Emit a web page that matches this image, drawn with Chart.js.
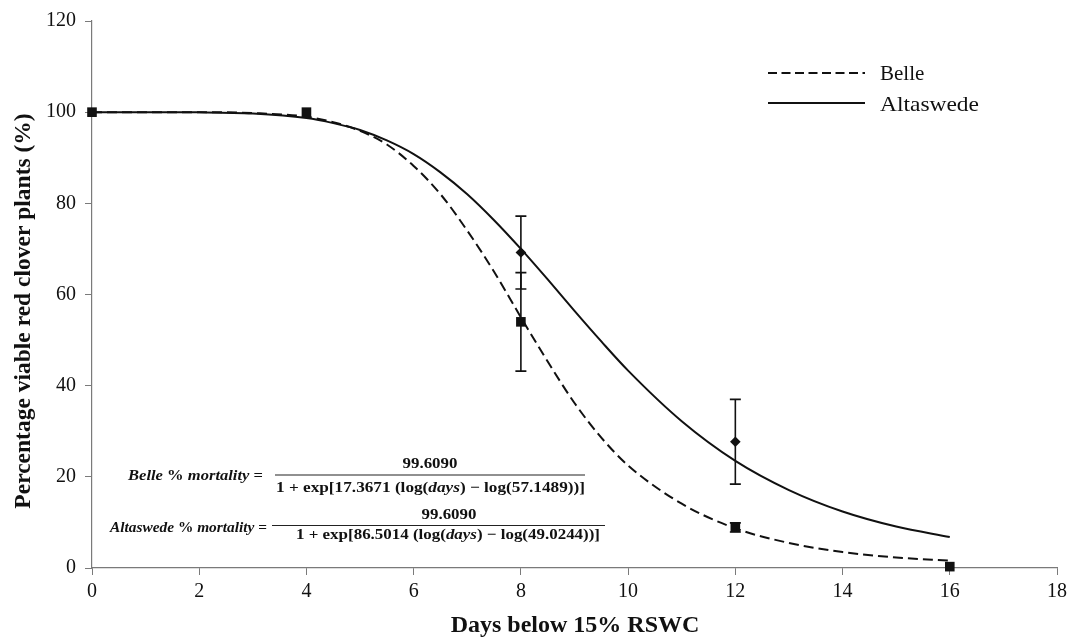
<!DOCTYPE html>
<html>
<head>
<meta charset="utf-8">
<script src="https://cdn.jsdelivr.net/npm/chart.js@4.4.1/dist/chart.umd.min.js"></script>
<style>
  html, body { margin: 0; padding: 0; background: #fff; }
  #wrap { width: 1073px; height: 640px; position: relative; }
</style>
</head>
<body>
<div id="wrap"><canvas id="c" width="1073" height="640"></canvas></div>
<script>
// ---------- data ----------
const xTicks = [0, 2, 4, 6, 8, 10, 12, 14, 16, 18];
const yTicks = [0, 20, 40, 60, 80, 100, 120];

// observed means
const belleDays = [0, 4, 8, 12, 16];
const belleMeans = [100, 100, 54, 8.9, 0.3];
const belleErr = [0, 0, 10.8, 1.0, 0];

const altaDays = [8, 12];
const altaMeans = [69.2, 27.7];
const altaErr = [8.0, 9.3];

// fitted curves
const curveDays = [0, 1, 2, 3, 4, 4.5, 5, 5.5, 6, 6.5, 7, 7.5, 8, 8.5, 9, 9.5, 10, 11, 12, 13, 14, 15, 16];
const belleCurve = [100, 100, 100, 99.8, 99.0, 97.8, 95.9, 92.9, 88.2, 82.0, 74.0, 65.0, 55.0, 45.3, 36.2, 28.6, 22.5, 14.1, 8.7, 5.5, 3.5, 2.3, 1.6];
const altaCurve = [100, 100, 99.96, 99.7, 98.7, 97.6, 96.1, 93.8, 90.8, 86.8, 82.0, 76.3, 70.0, 63.3, 56.4, 49.7, 43.3, 32.2, 23.5, 17.1, 12.4, 9.1, 6.8];

const seriesNames = ['Belle', 'Altaswede'];
const xTitle = 'Days below 15% RSWC';
const yTitle = 'Percentage viable red clover plants (%)';

// ---------- helpers ----------
const toXY = (xs, ys) => xs.map((x, i) => ({ x: x, y: ys[i] }));

const SERIF = '"Liberation Serif", "Times New Roman", serif';

function drawSegs(ctx, segs, x, y, align, targetW) {
  let total = 0;
  segs.forEach(s => { ctx.font = s.f; total += ctx.measureText(s.t).width; });
  const sx = targetW ? targetW / total : 1;
  const w = total * sx;
  let startX = x;
  if (align === 'center') startX = x - w / 2;
  else if (align === 'right') startX = x - w;
  ctx.save();
  ctx.translate(startX, y);
  ctx.scale(sx, 1);
  ctx.textBaseline = 'alphabetic';
  ctx.textAlign = 'left';
  ctx.fillStyle = '#111';
  let cx = 0;
  segs.forEach(s => { ctx.font = s.f; ctx.fillText(s.t, cx, 0); cx += ctx.measureText(s.t).width; });
  ctx.restore();
}

const B = 'bold 15px ' + SERIF;
const BI = 'italic bold 15px ' + SERIF;

const extras = {
  id: 'extras',
  afterDatasetsDraw(chart) {
    const ctx = chart.ctx;
    const xs = chart.scales.x, ys = chart.scales.y;
    const drawErr = (days, means, errs) => {
      ctx.save();
      ctx.strokeStyle = '#111';
      ctx.lineWidth = 1.6;
      days.forEach((d, i) => {
        const e = errs[i];
        if (!e) return;
        const px = xs.getPixelForValue(d);
        const pt = ys.getPixelForValue(means[i] + e);
        const pb = ys.getPixelForValue(means[i] - e);
        ctx.beginPath();
        ctx.moveTo(px, pt); ctx.lineTo(px, pb);
        ctx.moveTo(px - 5.5, pt); ctx.lineTo(px + 5.5, pt);
        ctx.moveTo(px - 5.5, pb); ctx.lineTo(px + 5.5, pb);
        ctx.stroke();
      });
      ctx.restore();
    };
    drawErr(belleDays, belleMeans, belleErr);
    drawErr(altaDays, altaMeans, altaErr);
  },
  afterDraw(chart) {
    const ctx = chart.ctx;
    // legend
    ctx.save();
    ctx.strokeStyle = '#111';
    ctx.lineWidth = 2;
    ctx.setLineDash([9, 4.5]);
    ctx.beginPath(); ctx.moveTo(768, 73); ctx.lineTo(865, 73); ctx.stroke();
    ctx.setLineDash([]);
    ctx.beginPath(); ctx.moveTo(768, 103); ctx.lineTo(865, 103); ctx.stroke();
    ctx.fillStyle = '#111';
    ctx.font = '21px ' + SERIF;
    ctx.textBaseline = 'middle';
    ctx.textAlign = 'left';
    ctx.fillText(seriesNames[0], 880, 74);
    drawSegs(ctx, [{t: seriesNames[1], f: '21px ' + SERIF}], 880, 111, 'left', 99);
    // axis titles
    ctx.fillStyle = '#111';
    ctx.textBaseline = 'middle';
    ctx.font = 'bold 24px ' + SERIF;
    ctx.textAlign = 'center';
    ctx.fillText(xTitle, 575, 626);
    ctx.translate(24, 311);
    ctx.rotate(-Math.PI / 2);
    ctx.font = 'bold 23.5px ' + SERIF;
    ctx.fillText(yTitle, 0, 0);
    ctx.restore();

    // equations
    ctx.save();
    drawSegs(ctx, [{t: 'Belle', f: BI}, {t: ' % ', f: B}, {t: 'mortality', f: BI}, {t: ' =', f: B}], 263, 480, 'right', 135);
    drawSegs(ctx, [{t: '99.6090', f: B}], 430, 468, 'center', 55);
    drawSegs(ctx, [{t: '1 + exp[17.3671 (log(', f: B}, {t: 'days', f: BI}, {t: ') \u2212 log(57.1489))]', f: B}], 276, 492, 'left', 309);
    drawSegs(ctx, [{t: 'Altaswede', f: BI}, {t: ' % ', f: B}, {t: 'mortality', f: BI}, {t: ' =', f: B}], 267, 532, 'right', 157);
    drawSegs(ctx, [{t: '99.6090', f: B}], 449, 519, 'center', 55);
    drawSegs(ctx, [{t: '1 + exp[86.5014 (log(', f: B}, {t: 'days', f: BI}, {t: ') \u2212 log(49.0244))]', f: B}], 296, 539, 'left', 304);
    ctx.strokeStyle = '#222';
    ctx.lineWidth = 1.2;
    ctx.beginPath();
    ctx.moveTo(275, 475); ctx.lineTo(585, 475);
    ctx.moveTo(272, 525.5); ctx.lineTo(605, 525.5);
    ctx.stroke();
    ctx.restore();
  }
};

const axisColor = '#7a7a7a';

new Chart(document.getElementById('c'), {
  type: 'scatter',
  data: {
    datasets: [
      {
        label: seriesNames[0] + ' fit',
        type: 'line',
        data: toXY(curveDays, belleCurve),
        borderColor: '#111',
        borderWidth: 2,
        borderDash: [10, 5],
        pointRadius: 0,
        fill: false,
        cubicInterpolationMode: 'monotone',
        order: 3
      },
      {
        label: seriesNames[1] + ' fit',
        type: 'line',
        data: toXY(curveDays, altaCurve),
        borderColor: '#111',
        borderWidth: 2,
        pointRadius: 0,
        fill: false,
        cubicInterpolationMode: 'monotone',
        order: 2
      },
      {
        label: seriesNames[1],
        data: toXY(altaDays, altaMeans),
        pointStyle: 'rectRot',
        pointRadius: 5.3,
        backgroundColor: '#111',
        borderColor: '#111',
        borderWidth: 0,
        clip: false,
        order: 1
      },
      {
        label: seriesNames[0],
        data: toXY(belleDays, belleMeans),
        pointStyle: 'rect',
        pointRadius: 6.8,
        backgroundColor: '#111',
        borderColor: '#111',
        borderWidth: 0,
        clip: false,
        order: 0
      }
    ]
  },
  options: {
    responsive: false,
    animation: false,
    events: [],
    layout: { padding: { top: 18, right: 16, left: 0, bottom: 0 } },
    plugins: {
      legend: { display: false },
      tooltip: { enabled: false },
      title: { display: false }
    },
    scales: {
      x: {
        type: 'linear',
        min: 0, max: 18,
        afterBuildTicks: (s) => { s.ticks = xTicks.map(v => ({ value: v })); },
        afterFit: (s) => { s.height = 72; },
        ticks: {
          color: '#111',
          font: { family: SERIF, size: 20 },
          padding: 5,
          maxRotation: 0
        },
        grid: { drawOnChartArea: false, drawTicks: true, tickLength: 7, color: axisColor },
        border: { color: axisColor, width: 1.2 }
      },
      y: {
        type: 'linear',
        min: 0, max: 120,
        afterBuildTicks: (s) => { s.ticks = yTicks.map(v => ({ value: v })); },
        afterFit: (s) => { s.width = 92; },
        ticks: {
          color: '#111',
          font: { family: SERIF, size: 20 },
          padding: 9
        },
        grid: { drawOnChartArea: false, drawTicks: true, tickLength: 7, color: axisColor },
        border: { color: axisColor, width: 1.2 }
      }
    }
  },
  plugins: [extras]
});
</script>
</body>
</html>
